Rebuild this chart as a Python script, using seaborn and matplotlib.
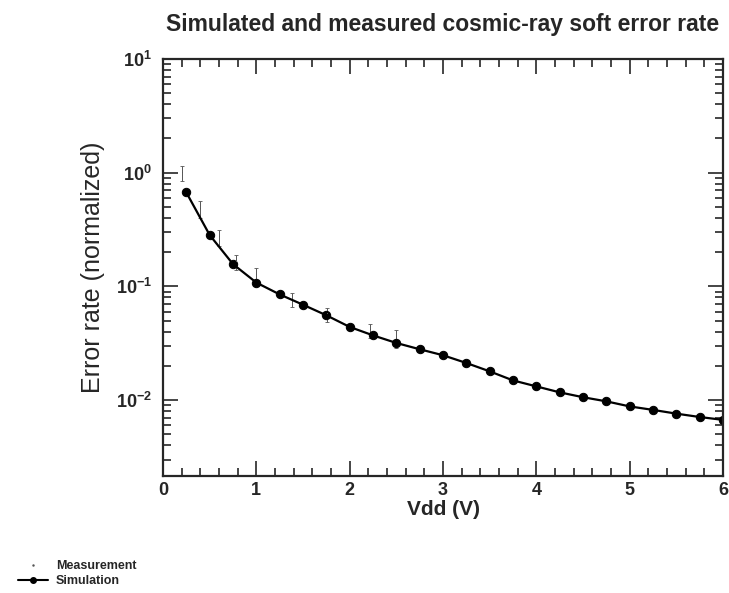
import numpy as np
import pandas as pd
import matplotlib
matplotlib.use("Agg")
import matplotlib.pyplot as plt
import seaborn as sns
from matplotlib.lines import Line2D
from matplotlib.ticker import LogLocator, MultipleLocator, NullFormatter

# simulated points
sim_vdd = [0.25, 0.5, 0.75, 1.0, 1.25, 1.5, 1.75, 2.0, 2.25, 2.5, 2.75, 3.0,
           3.25, 3.5, 3.75, 4.0, 4.25, 4.5, 4.75, 5.0, 5.25, 5.5, 5.75, 6.0]
sim_rate = [0.67, 0.283, 0.157, 0.108, 0.085, 0.069, 0.0557, 0.044, 0.0371,
            0.0318, 0.028, 0.0248, 0.0212, 0.0179, 0.0149, 0.0132, 0.0117,
            0.0106, 0.00975, 0.0088, 0.0082, 0.0076, 0.0071, 0.0067]

# measured points with error
meas_vdd = [0.2, 0.4, 0.6, 0.78, 1.0, 1.38, 1.76, 2.22, 2.5]
meas_rate = [1.0, 0.48, 0.27, 0.165, 0.125, 0.077, 0.057, 0.041, 0.035]
meas_err = [0.15, 0.08, 0.045, 0.025, 0.02, 0.011, 0.008, 0.006, 0.006]

sim = pd.DataFrame({"vdd": sim_vdd, "rate": sim_rate})

sns.set_style("ticks")
plt.rcParams["font.family"] = ["Liberation Sans", "DejaVu Sans"]

fig = plt.figure(figsize=(7.29, 5.93), dpi=100)
ax = fig.add_axes([0.2236, 0.1973, 0.7682, 0.7032])

ax.errorbar(meas_vdd, meas_rate, yerr=meas_err, fmt=",", color="#555555",
            elinewidth=0.7, capsize=1.5, capthick=0.6, linestyle="none")
sns.lineplot(data=sim, x="vdd", y="rate", ax=ax, color="black", marker="o",
             markersize=6, linewidth=1.6, markeredgecolor="black", legend=False)

ax.set_yscale("log")
ax.set_xlim(0, 6)
ax.set_ylim(2.15e-3, 10)

ax.xaxis.set_major_locator(MultipleLocator(1))
ax.xaxis.set_minor_locator(MultipleLocator(0.2))
ax.yaxis.set_major_locator(LogLocator(base=10, numticks=10))
ax.yaxis.set_minor_locator(LogLocator(base=10, subs=np.arange(2, 10), numticks=10))
ax.yaxis.set_minor_formatter(NullFormatter())

ax.tick_params(which="both", direction="in", top=True, right=True, width=1.2)
ax.tick_params(which="major", length=11, labelsize=13)
ax.tick_params(axis="x", which="major", pad=4)
ax.tick_params(axis="y", which="major", pad=8)
ax.tick_params(which="minor", length=6)
for lbl in ax.get_xticklabels() + ax.get_yticklabels():
    lbl.set_fontweight("bold")
for sp in ax.spines.values():
    sp.set_linewidth(1.6)

ax.set_xlabel("Vdd (V)", fontsize=15, fontweight="bold", labelpad=1)
ax.set_ylabel("Error rate (normalized)", fontsize=18, labelpad=8)
ax.set_title("Simulated and measured cosmic-ray soft error rate",
             fontsize=16.5, fontweight="bold", pad=20)

handles = [
    Line2D([], [], color="#555555", marker=".", markersize=1.5, linestyle="none"),
    Line2D([], [], color="black", marker="o", markersize=4, linewidth=1.5),
]
fig.legend(handles, ["Measurement", "Simulation"], loc="upper left",
           bbox_to_anchor=(0.025, 0.055), frameon=False,
           prop={"weight": "bold", "size": 9}, handlelength=2.4,
           labelspacing=0.2, borderaxespad=0, borderpad=0, handletextpad=0.6)

fig.savefig("out.png", dpi=100)
